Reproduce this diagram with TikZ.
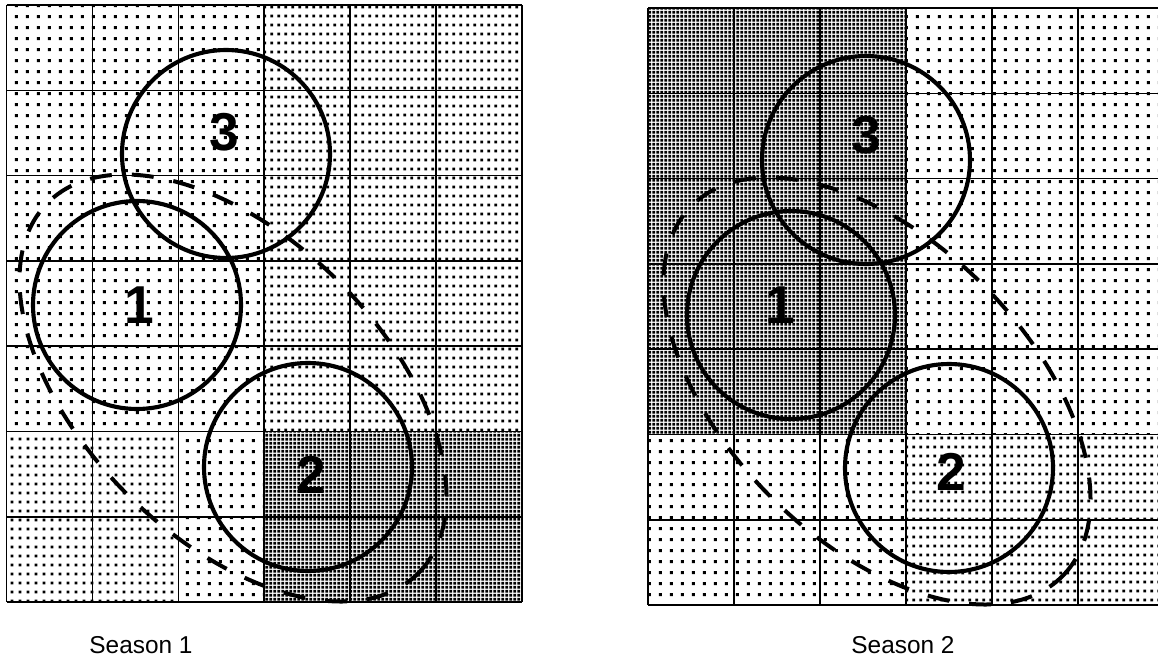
\documentclass[tikz,border=0pt]{standalone}
\usepackage{fontspec}
\setmainfont{Liberation Sans}
\usetikzlibrary{patterns}
\pgfdeclarepatternformonly{sparsedots}{\pgfqpoint{0pt}{0pt}}{\pgfqpoint{8.05pt}{8.0pt}}{\pgfqpoint{8.05pt}{8.0pt}}{\pgfpathrectangle{\pgfqpoint{3pt}{3pt}}{\pgfqpoint{2.3pt}{2.3pt}}\pgfusepath{fill}}
\pgfdeclarepatternformonly{mediumdots}{\pgfqpoint{0pt}{0pt}}{\pgfqpoint{5.6pt}{6.4pt}}{\pgfqpoint{5.6pt}{6.4pt}}{\pgfpathrectangle{\pgfqpoint{2pt}{2pt}}{\pgfqpoint{2.2pt}{2.2pt}}\pgfusepath{fill}}
\pgfdeclarepatternformonly{densedots}{\pgfqpoint{0pt}{0pt}}{\pgfqpoint{3.22pt}{3.2pt}}{\pgfqpoint{3.22pt}{3.2pt}}{\pgfpathrectangle{\pgfqpoint{0.4pt}{0.4pt}}{\pgfqpoint{2.3pt}{2.3pt}}\pgfusepath{fill}}
\begin{document}
\begin{tikzpicture}[x=0.75pt,y=-0.75pt,
  gridline/.style={line width=1.2pt},
  ring/.style={circle, draw, line width=3.1pt, inner sep=0pt, minimum size=156pt},
  dashring/.style={line width=3pt, dash pattern=on 16.5pt off 15pt},
  digit/.style={font=\bfseries\fontsize{40}{40}\selectfont, inner sep=0pt},
  caption/.style={font=\fontsize{18.3}{20}\selectfont, inner sep=0pt}]
\useasboundingbox (0,0) rectangle (1158,664);
\begin{scope}
\clip (0,0) rectangle (1158,664);
% ---------- left panel ----------
\fill[pattern=sparsedots] (6.5,5) rectangle (264.2,431.5);
\fill[pattern=sparsedots] (178.3,431.5) rectangle (264.2,602.1);
\fill[pattern=mediumdots] (264.2,5) rectangle (521.9,431.5);
\fill[pattern=mediumdots] (6.5,431.5) rectangle (178.3,602.1);
\fill[pattern=densedots] (264.2,431.5) rectangle (521.9,602.1);
\foreach \i in {0,...,6} \draw[gridline] ({6.5+85.9*\i},5) -- ({6.5+85.9*\i},602.1);
\foreach \j in {0,...,7} \draw[gridline] (6.5,{5+85.3*\j}) -- (521.9,{5+85.3*\j});
% ---------- right panel ----------
\fill[pattern=densedots] (648,8) rectangle (906,434.5);
\fill[pattern=sparsedots] (906,8) rectangle (1164,434.5);
\fill[pattern=sparsedots] (648,434.5) rectangle (906,605.1);
\fill[pattern=mediumdots] (906,434.5) rectangle (1164,605.1);
\foreach \i in {0,...,6} \draw[gridline] ({648+86*\i},8) -- ({648+86*\i},605.1);
\foreach \j in {0,...,7} \draw[gridline] (648,{8+85.3*\j}) -- (1164,{8+85.3*\j});
\end{scope}
% ---------- dashed ellipses ----------
\coordinate (LE) at (233,388);
\coordinate (RE) at (877,391);
\draw[dashring, rotate around={-45:(LE)}] (LE) ellipse [x radius=196.5pt, y radius=112.5pt];
\draw[dashring, rotate around={-45:(RE)}] (RE) ellipse [x radius=196.5pt, y radius=112.5pt];
% ---------- circles ----------
\node[ring] (L3) at (226,154) {};
\node[ring] (L1) at (137,305) {};
\node[ring] (L2) at (308,467) {};
\node[ring] (R3) at (866,160) {};
\node[ring] (R1) at (791,315) {};
\node[ring] (R2) at (949,468) {};
% ---------- labels ----------
\node[digit] (l3) at (224,132) {3};
\node[digit] (l1) at (139,305) {1};
\node[digit] (l2) at (311,475) {2};
\node[digit] (r3) at (866,135) {3};
\node[digit] (r1) at (780,305) {1};
\node[digit] (r2) at (951,472) {2};
\node[caption] (s1) at (141,645) {Season 1};
\node[caption] (s2) at (903,645) {Season 2};
\end{tikzpicture}
\end{document}
